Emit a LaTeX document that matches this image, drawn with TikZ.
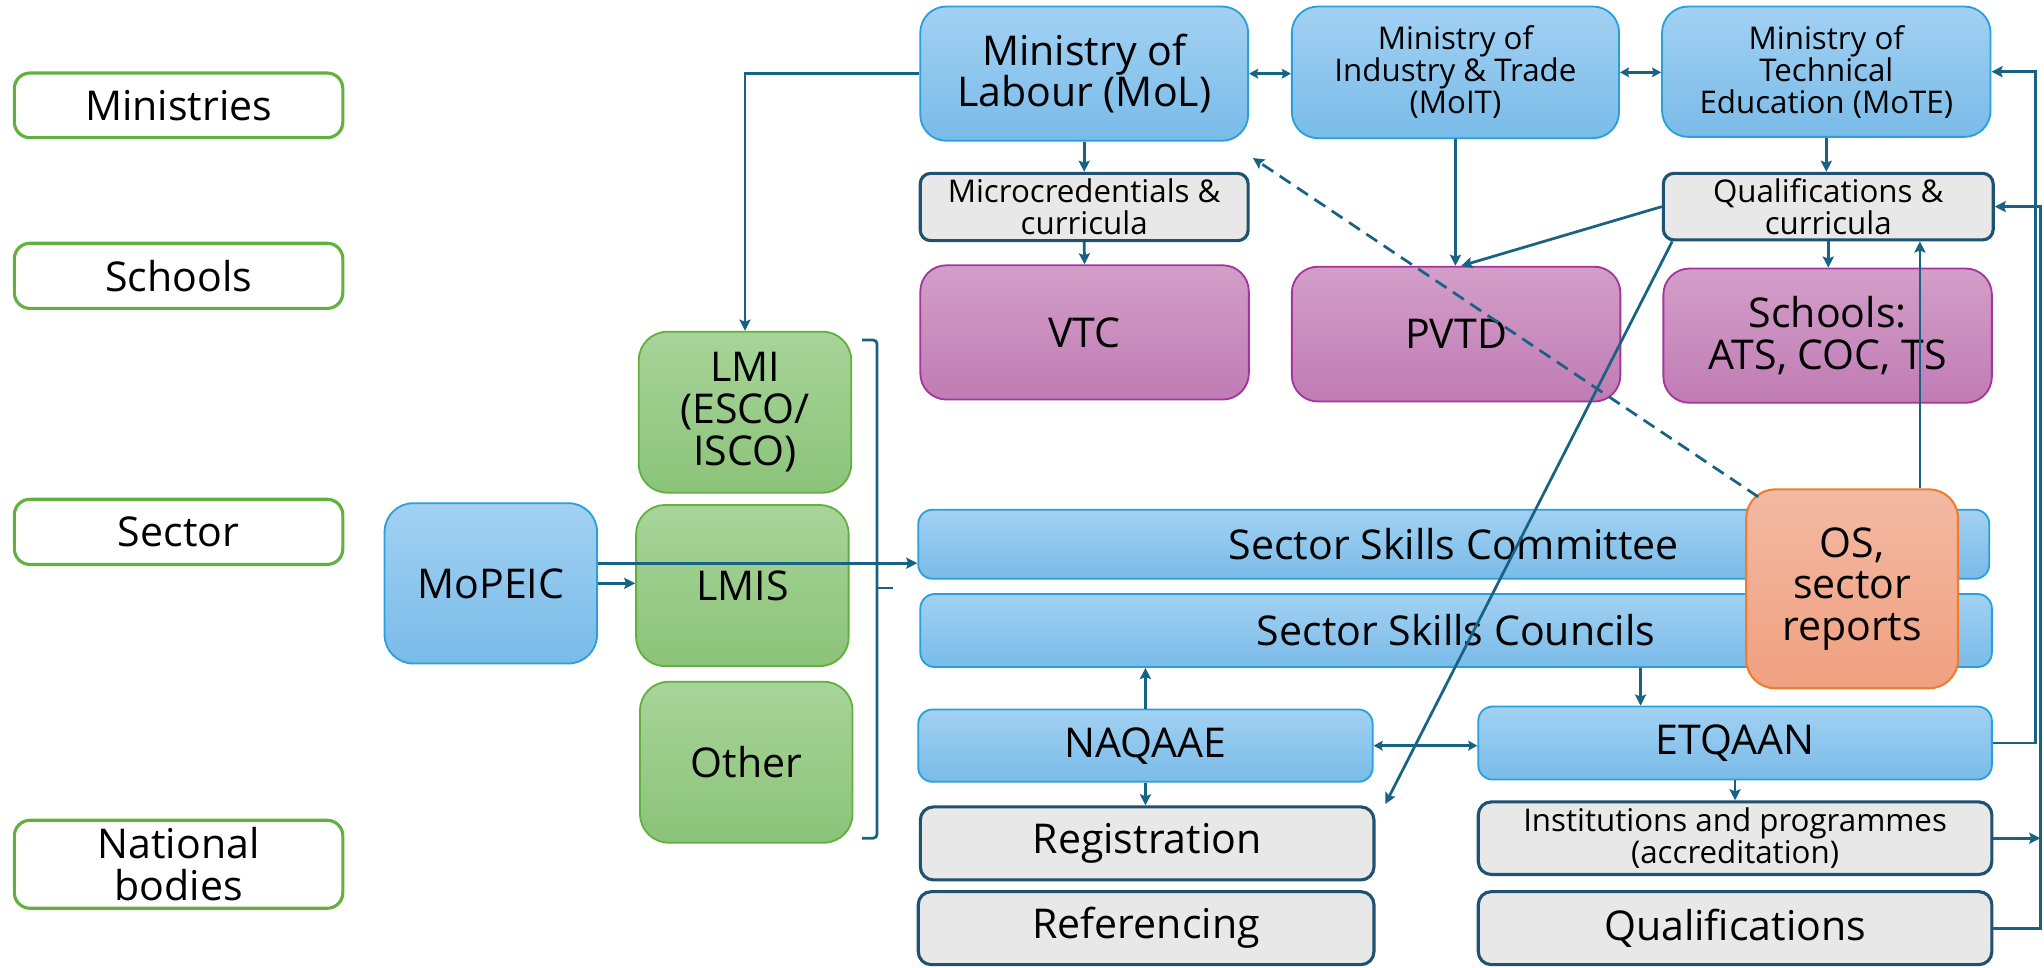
\documentclass[tikz,border=0pt]{standalone}
\usepackage{fontspec}
\setmainfont{Open Sans}
\usetikzlibrary{arrows.meta,calc}

\definecolor{blueT}{RGB}{162,209,243}
\definecolor{blueD}{RGB}{121,187,232}
\definecolor{blueB}{RGB}{40,160,218}
\definecolor{purpT}{RGB}{211,158,201}
\definecolor{purpD}{RGB}{192,124,180}
\definecolor{purpB}{RGB}{165,52,155}
\definecolor{greenT}{RGB}{168,212,153}
\definecolor{greenD}{RGB}{139,195,121}
\definecolor{greenB}{RGB}{98,176,62}
\definecolor{grayF}{RGB}{232,232,232}
\definecolor{grayB}{RGB}{30,82,112}
\definecolor{osT}{RGB}{243,185,163}
\definecolor{osD}{RGB}{241,160,128}
\definecolor{osB}{RGB}{237,125,49}
\definecolor{lineC}{RGB}{24,99,132}

\begin{document}
\begin{tikzpicture}[x=1pt,y=-1pt,
  box/.style={rectangle, align=center, inner sep=2pt, text=black},
  bigtxt/.style={font=\fontsize{31.5}{32}\selectfont},
  smalltxt/.style={font=\fontsize{24}{24.5}\selectfont},
  tier/.style={box, bigtxt, draw=greenB, line width=2.4pt, fill=white,
    rounded corners=12pt, minimum width=252pt},
  bluebox/.style={box, bigtxt, draw=blueB, line width=1.4pt,
    top color=blueT, bottom color=blueD, rounded corners=20pt},
  bluebar/.style={bluebox, rounded corners=11pt},
  purplebox/.style={box, bigtxt, draw=purpB, line width=1.4pt,
    top color=purpT, bottom color=purpD, rounded corners=20pt,
    minimum width=252pt, minimum height=103pt},
  greenbox/.style={box, bigtxt, draw=greenB, line width=1.4pt,
    top color=greenT, bottom color=greenD, rounded corners=22pt,
    minimum width=163pt, minimum height=123.5pt},
  graybox/.style={box, bigtxt, draw=grayB, line width=2.4pt, fill=grayF,
    rounded corners=10pt},
  osbox/.style={box, bigtxt, draw=osB, line width=1.6pt,
    top color=osT, bottom color=osD, rounded corners=22pt},
  conn/.style={draw=lineC, line width=2.1pt, -{Stealth[length=8.5pt,width=8.5pt,inset=1.5pt]}},
  dbl/.style={conn, {Stealth[length=7pt,width=7.5pt,inset=1.2pt]}-{Stealth[length=7pt,width=7.5pt,inset=1.2pt]}},
  brace/.style={draw=lineC, line width=2.1pt, rounded corners=3pt}
]
\useasboundingbox (0,0) rectangle (1568,742);

% tier labels on the left
\node[tier, minimum height=49.6pt] (labMin) at (137,80.8) {Ministries};
\node[tier, minimum height=50pt] (labSch) at (137,211.6) {Schools};
\node[tier, minimum height=50pt] (labSec) at (137,408) {Sector};
\node[tier, minimum height=67.5pt] (labNat) at (137,663) {National\\bodies};

% ministries
\node[bluebox, minimum width=251.5pt, minimum height=103pt] (mol) at (831.7,56.5)
  {Ministry of\\Labour (MoL)};
\node[bluebox, smalltxt, minimum width=251pt, minimum height=101pt] (moit) at (1116.5,55.5)
  {Ministry of\\Industry \& Trade\\(MoIT)};
\node[bluebox, smalltxt, minimum width=252pt, minimum height=100pt] (mote) at (1401,55)
  {Ministry of\\Technical\\Education (MoTE)};

% curricula boxes
\node[graybox, smalltxt, minimum width=251.5pt, minimum height=51.6pt, rounded corners=8pt] (micro) at (831.7,158.8)
  {Microcredentials \&\\curricula};
\node[graybox, smalltxt, minimum width=253pt, minimum height=51pt, rounded corners=8pt] (qc) at (1402.5,158.5)
  {Qualifications \&\\curricula};

% schools
\node[purplebox] (vtc) at (832,255) {VTC};
\node[purplebox, minimum height=103.4pt] (pvtd) at (1117,256.3) {PVTD};
\node[purplebox] (schools) at (1402,257.5) {Schools:\\ATS, COC, TS};

% labour market information
\node[greenbox] (lmi) at (571.5,316.2) {LMI\\(ESCO/\\ISCO)};
\node[greenbox] (lmis) at (569.5,449.2) {LMIS};
\node[greenbox] (other) at (572.5,584.7) {Other};
\node[bluebox, rounded corners=22pt, minimum width=163pt, minimum height=123pt] (mopeic) at (376.5,447.5) {MoPEIC};

% sector level
\node[bluebar, minimum width=821.6pt, minimum height=53pt] (ssc) at (1115.2,417.5) {Sector Skills Committee};
\node[bluebar, minimum width=822pt, minimum height=56pt] (sscl) at (1117,483.7) {Sector Skills Councils};
\node[osbox, minimum width=162.4pt, minimum height=152.5pt] (os) at (1420.8,451.7) {OS,\\sector\\reports};

% national bodies
\node[bluebar, minimum width=348.6pt, minimum height=55.5pt] (naqaae) at (878.7,572) {NAQAAE};
\node[bluebar, minimum width=394pt, minimum height=56pt] (etqaan) at (1331,570) {ETQAAN};
\node[graybox, minimum width=348pt, minimum height=56pt] (reg) at (880,647) {Registration};
\node[graybox, smalltxt, minimum width=394pt, minimum height=55.7pt] (inst) at (1331,643)
  {Institutions and programmes\\(accreditation)};
\node[graybox, minimum width=349.6pt, minimum height=56pt] (refr) at (879.2,712) {Referencing};
\node[graybox, minimum width=394pt, minimum height=56pt] (qual) at (1331,712) {Qualifications};

% bracket grouping the information sources
\draw[brace] (661.4,260.8) -- (672.8,260.8) -- (672.8,643) -- (661.4,643);
\draw[brace] (672.8,451) -- (684.7,451);

% helper points for connectors
\coordinate (osq) at ($(os.north)+(52,0)$);
\coordinate (mp1) at ($(mopeic.east)+(0,-15.5)$);
\coordinate (etq1) at ($(etqaan.north)+(-72.5,0)$);
\coordinate (rx1) at ($(etqaan.east)+(33,0)$);
\coordinate (rx2) at ($(qual.east)+(36,0)$);

% connectors
\draw[conn] (mol.west) -| (lmi.north);
\draw[dbl] (mol.east) -- (mol.east -| moit.west);
\draw[dbl] (moit.east) -- (moit.east -| mote.west);
\draw[conn] (mol.south) -- (micro.north);
\draw[conn] (micro.south) -- (vtc.north);
\draw[conn] (moit.south) -- (moit.south |- pvtd.north);
\draw[conn] (qc.west) -- ($(pvtd.north)+(4,0)$);
\draw[conn] (mote.south) -- (mote.south |- qc.north);
\draw[conn] (qc.south) -- (qc.south |- schools.north);
\draw[conn] ($(qc.south west)+(8,0)$) -- ($(reg.north east)+(7.5,-1)$);
\draw[conn] (osq) -- (osq |- qc.south);
\draw[conn, dash pattern=on 10pt off 6pt] ($(os.north west)+(10,6.5)$) -- ($(mol.south east)+(3,12.5)$);
\draw[conn] (mp1) -- (mp1 -| ssc.west);
\draw[conn] (mopeic.east) -- (mopeic.east -| lmis.west);
\draw[conn] (naqaae.north) -- (naqaae.north |- sscl.south);
\draw[conn] (etq1 |- sscl.south) -- (etq1);
\draw[dbl] (naqaae.east) -- (naqaae.east -| etqaan.west);
\draw[conn] (naqaae.south) -- (naqaae.south |- reg.north);
\draw[conn] (etqaan.south) -- (inst.north);
\draw[conn] (etqaan.east) -- (rx1) |- (mote.east);
\draw[conn] (qual.east) -- (rx2) |- (qc.east);
\draw[conn] (inst.east) -- (inst.east -| rx2);
\end{tikzpicture}
\end{document}
